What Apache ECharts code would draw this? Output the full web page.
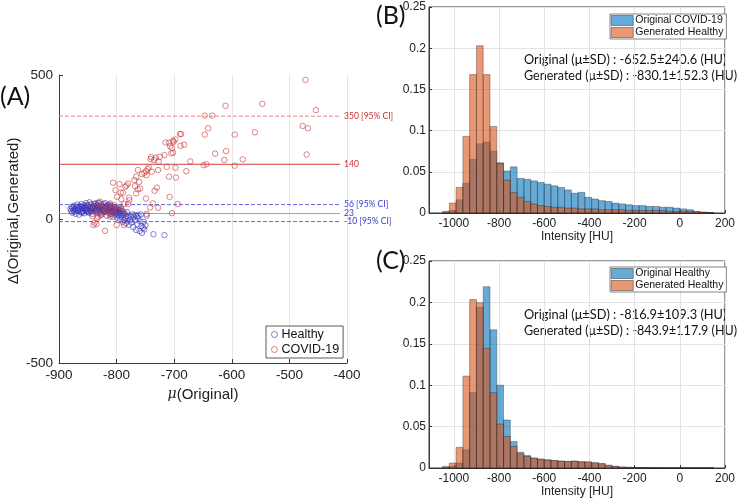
<!DOCTYPE html>
<html><head><meta charset="utf-8">
<script src="https://cdn.jsdelivr.net/npm/echarts@6/dist/echarts.min.js"></script>
<style>html,body{margin:0;padding:0;background:#fff}#c{width:738px;height:501px}</style>
</head><body><div id="c"></div>
<script>
// ---------- Panel A data (Bland-Altman style) ----------
const healthyPts = [
[-880,35],[-879,28],[-878,42],[-877,22],[-876,38],[-875,30],[-874,46],[-873,25],[-872,36],[-871,18],
[-870,42],[-869,31],[-868,50],[-867,27],[-866,38],[-865,15],[-864,45],[-863,33],[-862,24],[-861,52],
[-860,40],[-859,29],[-858,36],[-857,48],[-856,20],[-855,43],[-854,31],[-853,55],[-852,38],[-851,26],
[-850,46],[-849,34],[-848,22],[-847,58],[-846,40],[-845,29],[-844,50],[-843,36],[-842,18],[-841,44],
[-840,32],[-839,53],[-838,27],[-837,41],[-836,35],[-835,48],[-834,22],[-833,38],[-832,56],[-831,30],
[-830,44],[-829,25],[-828,37],[-827,51],[-826,16],[-825,40],[-824,31],[-823,47],[-822,24],[-821,36],
[-820,55],[-819,28],[-818,42],[-817,12],[-816,34],[-815,49],[-814,22],[-813,39],[-812,30],[-811,45],
[-810,18],[-809,36],[-808,26],[-807,43],[-806,8],[-805,32],[-804,21],[-803,40],[-802,14],[-801,29],
[-800,37],[-799,5],[-798,24],[-797,33],[-796,12],[-795,28],[-794,-3],[-793,19],[-792,35],[-791,8],
[-790,-10],[-789,26],[-788,14],[-787,-4],[-786,20],[-785,2],[-784,-15],[-783,10],[-782,24],[-781,-8],
[-780,4],[-779,-20],[-778,12],[-776,-2],[-775,8],[-774,-12],[-772,16],[-771,-28],[-770,6],[-768,-5],
[-767,14],[-766,-38],[-765,10],[-764,-18],[-763,4],[-762,12],[-760,-42],[-759,-8],[-758,16],[-757,-25],
[-756,-48],[-754,-30],[-753,-10],[-752,-36],[-750,-22],[-748,12],[-736,-53],[-717,-56],
[-866,30],[-862,42],[-858,26],[-854,38],[-850,30],[-846,34],[-842,40],[-838,44],[-834,30],[-830,36],
[-826,42],[-822,30],[-818,34],[-814,28],[-810,38],[-806,30],[-802,34],[-798,16],[-794,22],[-790,18],
[-868,40],[-860,22],[-852,48],[-844,26],[-836,54],[-828,20],[-820,40],[-812,50],[-804,26],[-796,40],
[-873,34],[-857,40],[-849,24],[-841,36],[-833,46],[-825,32],[-817,44],[-809,28],[-801,20],[-793,30]
];
const covidPts = [
[-472,483],[-611,393],[-547,400],[-454,378],[-647,359],[-634,359],[-641,315],[-647,293],[-595,293],
[-560,301],[-477,323],[-468,315],[-470,224],[-629,227],[-610,236],[-613,205],[-581,207],[-595,185],
[-649,187],[-644,190],[-672,200],[-688,295],[-690,295],[-698,276],[-683,258],[-689,254],[-702,272],
[-701,268],[-709,265],[-715,266],[-707,253],[-704,247],[-702,230],[-705,228],[-717,222],[-725,216],
[-732,213],[-740,215],[-741,208],[-735,205],[-727,199],[-713,181],[-698,178],[-709,147],[-697,144],
[-679,166],[-728,170],[-744,179],[-746,173],[-749,166],[-739,164],[-748,152],[-756,156],[-752,160],
[-763,170],[-766,147],[-769,135],[-761,129],[-768,114],[-780,123],[-785,112],[-783,116],[-763,103],
[-759,106],[-730,109],[-734,98],[-766,89],[-795,121],[-793,92],[-806,126],[-802,100],[-799,77],
[-789,91],[-778,74],[-778,65],[-780,52],[-792,69],[-787,52],[-749,71],[-708,77],[-694,52],[-728,39],
[-737,54],[-704,20],[-748,18],[-742,40],[-787,19],[-787,-21],[-800,-21],[-811,8],[-829,60],[-822,52],
[-817,33],[-820,-41],[-835,-18],[-838,-13],[-840,-21],[-832,8],[-823,25],[-811,54],[-802,39],[-797,31],
[-806,19],[-793,42],[-845,50],[-840,30],[-836,40],[-830,55],[-826,35],[-820,25],[-815,45],[-812,15],
[-808,30],[-804,48],[-842,10],[-834,2],[-828,12]
];
const refLineY = [357, 190, 50, 19, -9];
const refLineX = [-900, -412];
const refLineLabel = ['350 [95% CI]', '140', '56 [95% CI]', '23', '-10 [95% CI]'];
const refLineColor = ['#e58a8a', '#d04040', '#6464e6', '#9a9af5', '#6464e6'];
const refLineLabelColor = ['#c83232', '#c83232', '#3838c8', '#3838c8', '#3838c8'];
const refLineType = ['dashed', 'solid', 'dashed', 'solid', 'dashed'];

// ---------- Histogram data (panels B, C) ----------
const binStart = [-1050,-1020,-990,-960,-930,-900,-870,-840,-810,-780,-750,-720,-690,-660,-630,-600,-570,-540,-510,-480,
                  -450,-420,-390,-360,-330,-300,-270,-240,-210,-180,-150,-120,-90,-60,-30,0,30,60,90,120];
const binWidth = 30;
const bOriginalCovid = [0.001,0.003,0.016,0.036,0.065,0.084,0.086,0.075,0.061,0.051,0.056,0.042,0.041,0.039,0.037,0.035,0.033,0.031,0.028,0.024,
                        0.025,0.019,0.017,0.015,0.014,0.012,0.011,0.010,0.009,0.009,0.008,0.008,0.007,0.007,0.006,0.005,0.004,0.002,0.001,0.0005];
const bGeneratedHealthy = [0.002,0.012,0.031,0.093,0.168,0.203,0.168,0.105,0.060,0.040,0.025,0.019,0.014,0.011,0.009,0.008,0.007,0.007,0.006,0.006,
                           0.005,0.005,0.005,0.004,0.004,0.004,0.004,0.003,0.003,0.003,0.003,0.003,0.003,0.002,0.002,0.002,0.002,0.0015,0.001,0.0005];
const cOriginalHealthy = [0.0005,0.002,0.006,0.022,0.091,0.194,0.219,0.167,0.100,0.058,0.032,0.019,0.015,0.012,0.011,0.010,0.009,0.0085,0.008,0.0085,
                          0.0075,0.007,0.006,0.005,0.003,0.002,0.0012,0.0008,0.0005,0.0004,0.0003,0.0002,0.0002,0.0001,0.0001,0.0001,0.0001,0.0001,0.0001,0.0001];
const cGeneratedHealthy = [0.002,0.006,0.025,0.111,0.2035,0.1995,0.1445,0.091,0.053,0.038,0.026,0.017,0.014,0.012,0.010,0.0095,0.009,0.008,0.008,0.008,
                           0.0075,0.0075,0.0065,0.0055,0.0035,0.002,0.0012,0.0008,0.0005,0.0003,0.0003,0.0002,0.0002,0.0001,0.0001,0.0001,0.0001,0.0001,0.0001,0.0001];
const histTicks = [-1000,-800,-600,-400,-200,0,200];
const bText = ['Original (μ±SD) : -652.5±240.6 (HU)', 'Generated (μ±SD) : -830.1±152.3 (HU)'];
const cText = ['Original (μ±SD) : -816.9±109.3 (HU)', 'Generated (μ±SD) : -843.9±117.9 (HU)'];

const BLUE_FILL = 'rgba(0,114,189,0.6)';
const ORANGE_FILL = 'rgba(217,83,25,0.6)';
const EDGE = 'rgba(20,20,20,0.65)';
const AX = '#3a3a3a';
const FONT = 'Liberation Sans';
const TXT = 'Lato';
const plain = v => String(v);

function histData(vals){ return binStart.map((s,i)=>[s, s+binWidth, vals[i]]); }
function renderBar(fill){
  return function(params, api){
    const p0 = api.coord([api.value(0), api.value(2)]);
    const p1 = api.coord([api.value(1), 0]);
    return {type:'rect', shape:{x:p0[0], y:p0[1], width:p1[0]-p0[0], height:p1[1]-p0[1]},
            style:{fill:fill, stroke:EDGE, lineWidth:0.5}};
  };
}

const chart = echarts.init(document.getElementById('c'), null, {renderer:'canvas'});

function histX(gi, nameGap){
  return {gridIndex:gi, type:'value', min:-1110, max:200,
    name:'Intensity [HU]', nameLocation:'middle', nameGap:nameGap,
    nameTextStyle:{fontFamily:FONT, fontSize:12, color:'#222'},
    axisLine:{onZero:false, lineStyle:{color:AX, width:1}},
    axisTick:{inside:true, length:3, customValues:histTicks, lineStyle:{color:AX}},
    axisLabel:{customValues:histTicks, formatter:plain, fontFamily:FONT, fontSize:12, color:'#222', margin:5},
    splitLine:{show:true, lineStyle:{color:'#e3e3e3', width:1}}};
}
function histY(gi){
  return {gridIndex:gi, type:'value', min:0, max:0.25, interval:0.05,
    axisLine:{show:true, onZero:false, lineStyle:{color:AX, width:1}},
    axisTick:{show:true, inside:true, length:3, lineStyle:{color:AX}},
    axisLabel:{formatter:plain, fontFamily:FONT, fontSize:12, color:'#222', margin:3},
    splitLine:{show:true, lineStyle:{color:'#e3e3e3', width:1}}};
}

const refSeries = refLineY.map((y,i)=>({
  name:'ref'+i, type:'line', xAxisIndex:0, yAxisIndex:0, z:2, silent:true,
  data:[[refLineX[0], y], [refLineX[1], y]], symbol:'none', showSymbol:false,
  lineStyle:{color:refLineColor[i], type:refLineType[i], width:1},
  itemStyle:{color:refLineColor[i]},
  endLabel:{show:true, formatter:refLineLabel[i], color:refLineLabelColor[i], fontFamily:'Lato', fontSize:8.5, distance:4}
}));

function annot(left, top, text, sx){
  return {type:'text', left:left, top:top, scaleX:sx, originX:0,
          style:{text:text, fontFamily:TXT, fontSize:13.2, fill:'#111'}};
}

const option = {
  animation:false,
  grid:[
    {left:59, top:75, width:288, height:288},
    {left:429, top:7, width:300, height:206, show:true, borderColor:AX, borderWidth:1},
    {left:429, top:261, width:300, height:207, show:true, borderColor:AX, borderWidth:1}
  ],
  xAxis:[
    {gridIndex:0, type:'value', min:-900, max:-400, interval:100,
     name:'{i|μ}(Original)', nameLocation:'middle', nameGap:22,
     nameTextStyle:{fontFamily:FONT, fontSize:15, color:'#222', rich:{i:{fontStyle:'italic', fontFamily:'DejaVu Serif', fontSize:14, color:'#222'}}},
     axisLine:{onZero:false, lineStyle:{color:AX, width:1}},
     axisTick:{inside:true, length:4, lineStyle:{color:AX}},
     axisLabel:{formatter:plain, fontFamily:FONT, fontSize:13.5, color:'#222', margin:5},
     splitLine:{show:true, lineStyle:{color:'#e6e6e6', width:1}}},
    histX(1, 17), histX(2, 18)
  ],
  yAxis:[
    {gridIndex:0, type:'value', min:-500, max:500, interval:500,
     name:'Δ(Original,Generated)', nameLocation:'middle', nameGap:38,
     nameTextStyle:{fontFamily:FONT, fontSize:15, color:'#222', padding:[0,0,0,16]},
     axisLine:{show:true, onZero:false, lineStyle:{color:AX, width:1}},
     axisTick:{show:true, inside:true, length:4, lineStyle:{color:AX}},
     axisLabel:{formatter:plain, fontFamily:FONT, fontSize:13.5, color:'#222', margin:6},
     splitLine:{show:false}},
    histY(1), histY(2)
  ],
  legend:[
    {left:266, top:326, orient:'vertical', itemWidth:6, itemHeight:6, itemGap:2,
     padding:[2,4,2,5], borderColor:'#333', borderWidth:0.8, backgroundColor:'#fff',
     textStyle:{fontFamily:FONT, fontSize:12.5, color:'#111', padding:[0,0,0,-1]},
     data:[{name:'Healthy', icon:'circle', itemStyle:{color:'transparent', borderColor:'#5050c0', borderWidth:0.9}},
           {name:'COVID-19', icon:'circle', itemStyle:{color:'transparent', borderColor:'#c85050', borderWidth:0.9}}]},
    {left:610, top:14, orient:'vertical', itemWidth:22, itemHeight:10, itemGap:1,
     padding:[1,3,1,1], borderColor:'#333', borderWidth:0.6, backgroundColor:'#fff',
     textStyle:{fontFamily:FONT, fontSize:10.5, color:'#111', lineHeight:11, padding:[0,0,0,-3]},
     data:[{name:'Original COVID-19', icon:'rect', itemStyle:{color:BLUE_FILL, borderColor:'#333', borderWidth:0.5}},
           {name:'Generated Healthy', icon:'rect', itemStyle:{color:ORANGE_FILL, borderColor:'#333', borderWidth:0.5}}]},
    {left:610, top:267, orient:'vertical', itemWidth:22, itemHeight:10, itemGap:1,
     padding:[1,3,1,1], borderColor:'#333', borderWidth:0.6, backgroundColor:'#fff',
     textStyle:{fontFamily:FONT, fontSize:10.5, color:'#111', lineHeight:11, padding:[0,0,0,-3]},
     data:[{name:'Original Healthy', icon:'rect', itemStyle:{color:BLUE_FILL, borderColor:'#333', borderWidth:0.5}},
           {name:'Generated Healthy', icon:'rect', itemStyle:{color:ORANGE_FILL, borderColor:'#333', borderWidth:0.5}}]}
  ],
  series:[
    ...refSeries,
    {name:'Healthy', type:'scatter', xAxisIndex:0, yAxisIndex:0, data:healthyPts, symbol:'circle', symbolSize:5.5, z:3,
     itemStyle:{color:'transparent', borderColor:'rgba(55,55,190,0.9)', borderWidth:0.85}},
    {name:'COVID-19', type:'scatter', xAxisIndex:0, yAxisIndex:0, data:covidPts, symbol:'circle', symbolSize:5.5, z:3,
     itemStyle:{color:'transparent', borderColor:'rgba(200,55,55,0.9)', borderWidth:0.85}},
    {name:'Original COVID-19', type:'custom', xAxisIndex:1, yAxisIndex:1, data:histData(bOriginalCovid),
     encode:{x:[0,1], y:2}, renderItem:renderBar(BLUE_FILL), itemStyle:{color:BLUE_FILL}},
    {name:'Generated Healthy', type:'custom', xAxisIndex:1, yAxisIndex:1, data:histData(bGeneratedHealthy),
     encode:{x:[0,1], y:2}, renderItem:renderBar(ORANGE_FILL), itemStyle:{color:ORANGE_FILL}},
    {name:'Original Healthy', type:'custom', xAxisIndex:2, yAxisIndex:2, data:histData(cOriginalHealthy),
     encode:{x:[0,1], y:2}, renderItem:renderBar(BLUE_FILL), itemStyle:{color:BLUE_FILL}},
    {name:'Generated Healthy', type:'custom', xAxisIndex:2, yAxisIndex:2, data:histData(cGeneratedHealthy),
     encode:{x:[0,1], y:2}, renderItem:renderBar(ORANGE_FILL), itemStyle:{color:ORANGE_FILL}}
  ],
  graphic:[
    {type:'text', left:0, top:84, style:{text:'(A)', fontFamily:'Lato', fontSize:25, fill:'#111'}},
    {type:'text', left:376, top:3, style:{text:'(B)', fontFamily:'Lato', fontSize:25, fill:'#111'}},
    {type:'text', left:376, top:248, style:{text:'(C)', fontFamily:'Lato', fontSize:25, fill:'#111'}},
    annot(524, 53, bText[0], 0.97), annot(524, 69, bText[1], 0.95),
    annot(524, 308, cText[0], 0.97), annot(524, 324, cText[1], 0.95)
  ]
};
chart.setOption(option);
</script></body></html>
